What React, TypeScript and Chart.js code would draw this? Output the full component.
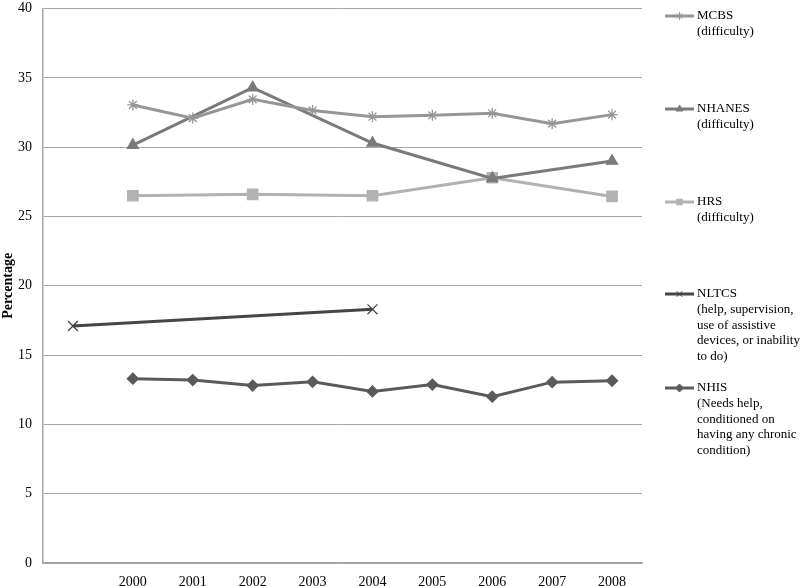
import React, { useEffect, useRef } from "react";
import { Chart, registerables } from "chart.js";
import { drawPoint } from "chart.js/helpers";

Chart.register(...registerables);

const categories = ["", "2000", "2001", "2002", "2003", "2004", "2005", "2006", "2007", "2008"];
const yTicks = [0, 5, 10, 15, 20, 25, 30, 35, 40];

const mcbs = [null, 33.05, 32.1, 33.45, 32.65, 32.2, 32.3, 32.45, 31.7, 32.35];
const nhanes = [null, 30.15, null, 34.3, null, 30.3, null, 27.75, null, 29.0];
const hrs = [null, 26.5, null, 26.6, null, 26.5, null, 27.8, null, 26.45];
const nltcs = [17.1, null, null, null, null, 18.3, null, null, null, null];
const nhis = [null, 13.3, 13.2, 12.8, 13.07, 12.38, 12.87, 12.0, 13.05, 13.15];

const seriesNames = ["MCBS", "NHANES", "HRS", "NLTCS", "NHIS"];
const legendLines = [
  ["MCBS", "(difficulty)"],
  ["NHANES", "(difficulty)"],
  ["HRS", "(difficulty)"],
  ["NLTCS", "(help, supervision,", "use of assistive", "devices, or inability", "to do)"],
  ["NHIS", "(Needs help,", "conditioned on", "having any chronic", "condition)"],
];

const FONT = '"Liberation Serif", "Times New Roman", serif';

export default function App() {
  const ref = useRef<HTMLCanvasElement>(null);
  useEffect(() => {
    if (!ref.current) return;
    const legendPlugin = {
      id: "sideLegend",
      afterDraw(chart: any) {
        const ctx = chart.ctx;
        ctx.save();
        const tops = [16, 109, 202, 294, 388];
        chart.data.datasets.forEach((ds: any, i: number) => {
          const y = tops[i];
          ctx.strokeStyle = ds.borderColor;
          ctx.lineWidth = 3;
          ctx.beginPath();
          ctx.moveTo(665, y);
          ctx.lineTo(694, y);
          ctx.stroke();
          ctx.fillStyle = ds.pointBackgroundColor;
          ctx.strokeStyle = ds.pointBorderColor;
          ctx.lineWidth = 1;
          drawPoint(ctx, { pointStyle: ds.pointStyle, radius: 4, borderWidth: 1, rotation: 0 } as any, 679.5, y);
          ctx.fillStyle = "#000";
          ctx.font = "13px " + FONT;
          ctx.textBaseline = "middle";
          ctx.textAlign = "left";
          legendLines[i].forEach((t, k) => ctx.fillText(t, 697, y + k * 15.6));
        });
        ctx.restore();
      },
    };
    const mk = (label: string, data: any[], color: string, style: string, radius: number) => ({
      label,
      data,
      borderColor: color,
      backgroundColor: color,
      pointBackgroundColor: color,
      pointBorderColor: color,
      pointStyle: style,
      pointRadius: radius,
      pointBorderWidth: 1.3,
      borderWidth: 3,
      spanGaps: true,
      tension: 0,
    });
    const chart = new Chart(ref.current, {
      type: "line",
      data: {
        labels: categories,
        datasets: [
          mk(seriesNames[0], mcbs, "#969696", "star", 5.5),
          mk(seriesNames[1], nhanes, "#7a7a7a", "triangle", 6.3),
          mk(seriesNames[2], hrs, "#b2b2b2", "rect", 7.3),
          mk(seriesNames[3], nltcs, "#454545", "crossRot", 7),
          mk(seriesNames[4], nhis, "#5a5a5a", "rectRot", 5.5),
        ],
      },
      options: {
        responsive: false,
        animation: false,
        layout: { padding: { top: 5, right: 158, left: 0, bottom: 0 } },
        plugins: { legend: { display: false }, tooltip: { enabled: false } },
        scales: {
          x: {
            offset: true,
            grid: { display: false, drawTicks: false, offset: true },
            border: { display: true, color: "#a6a6a6", width: 1.5 },
            ticks: { color: "#000", font: { family: FONT, size: 14 }, padding: 11, maxRotation: 0, autoSkip: false },
            afterFit(s: any) {
              s.height = 23;
              s.paddingLeft = 0;
              s.paddingRight = 0;
            },
          },
          y: {
            min: 0,
            max: 40,
            afterBuildTicks(s: any) {
              s.ticks = yTicks.map((v) => ({ value: v }));
            },
            grid: { color: "#a6a6a6", lineWidth: 1, drawTicks: false },
            border: { display: true, color: "#a6a6a6", width: 1.5 },
            ticks: { color: "#000", font: { family: FONT, size: 14 }, padding: 11 },
            title: {
              display: true,
              text: "Percentage",
              color: "#000",
              font: { family: FONT, size: 14, weight: "bold" },
              padding: { top: 0, bottom: 0 },
            },
            afterFit(s: any) {
              s.width = 43;
              s.paddingTop = 0;
              s.paddingBottom = 0;
            },
          },
        },
      },
      plugins: [legendPlugin],
    } as any);
    return () => chart.destroy();
  }, []);
  return (
    <div style={{ position: "absolute", left: 0, top: 0, width: 800, height: 586, background: "#fff" }}>
      <canvas ref={ref} width={800} height={586} />
    </div>
  );
}
